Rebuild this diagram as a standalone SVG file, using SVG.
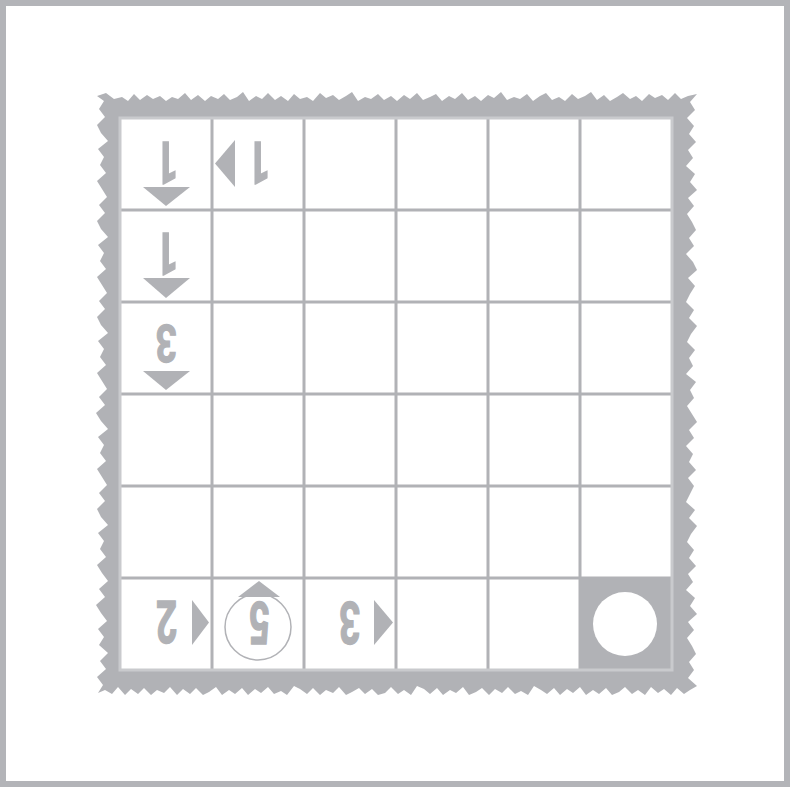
<svg xmlns="http://www.w3.org/2000/svg" width="790" height="787" viewBox="0 0 790 787">
<style>
.g{fill:#b1b2b6}
.ln{stroke:#b1b2b6;stroke-width:3;fill:none}
.num{font-family:Roboto,"Open Sans",sans-serif;font-weight:bold;font-size:60px;fill:#b1b2b6;stroke:#b1b2b6;stroke-width:1.5;text-anchor:middle}
</style>
<rect x="0" y="0" width="790" height="787" fill="#ffffff"/>
<rect id="frame" x="3" y="3" width="784" height="781" fill="none" stroke="#b3b4b8" stroke-width="6"/>
<g id="board">
<path class="g" d="M97,96 L106,93 114,99 122,97 128,101 134,94 140,100 147,95 153,99 160,96 166,101 172,97 178,99 185,93 191,100 198,95 205,101 211,96 218,99 224,94 230,100 237,97 243,92 249,101 256,96 262,99 268,93 275,100 281,96 288,101 294,94 300,99 307,97 313,101 320,93 326,98 333,95 339,100 346,96 352,92 358,101 365,97 371,99 378,94 384,100 391,96 397,101 404,95 410,99 417,93 423,100 430,97 436,94 442,101 449,96 455,99 462,93 468,100 475,96 481,101 488,95 494,98 501,92 507,100 514,97 520,99 527,94 533,101 540,96 546,93 552,100 559,97 565,101 572,94 578,99 585,96 591,92 597,100 604,95 610,101 617,97 623,93 630,99 636,96 642,101 649,94 655,98 662,95 668,100 675,93 681,99 688,96 697,94 L690,102 695,110 687,118 694,126 689,134 696,142 688,150 693,158 686,166 695,174 690,182 697,190 688,198 694,206 687,214 692,222 696,230 689,238 694,246 686,254 693,262 697,270 688,278 695,286 690,294 686,302 694,310 689,318 697,326 691,334 687,342 695,350 689,358 693,366 686,374 696,382 690,390 694,398 687,406 692,414 697,422 689,430 694,438 686,446 693,454 689,462 696,470 688,478 694,486 690,494 686,502 695,510 689,518 697,526 691,534 687,542 694,550 689,558 696,566 688,574 693,582 686,590 695,598 690,606 697,614 688,622 694,630 687,638 692,646 696,654 689,662 694,670 688,678 697,686 690,690 L684,694 677,688 671,695 664,689 658,693 651,687 645,695 638,690 632,694 625,687 619,692 612,695 606,688 599,694 593,690 586,695 580,687 573,693 567,689 560,695 554,688 547,694 541,690 534,686 528,695 521,691 515,694 508,687 502,693 495,689 489,695 482,688 476,692 469,695 463,687 456,693 450,690 443,695 437,688 430,694 424,689 417,686 411,695 404,690 398,694 391,687 385,693 378,695 372,689 365,694 359,688 352,692 346,695 339,687 333,693 326,690 320,695 313,688 307,694 300,689 294,686 287,695 281,691 274,694 268,687 261,693 255,689 248,695 242,688 235,694 229,690 222,695 216,687 209,692 203,695 196,688 190,694 183,689 177,695 170,687 164,693 157,690 151,695 144,688 138,694 131,689 125,695 118,687 112,694 105,690 98,693 L103,685 97,677 106,669 100,661 108,653 99,645 104,637 98,629 107,621 101,613 96,605 105,597 99,589 108,581 102,573 97,565 106,557 100,549 104,541 98,533 108,525 101,517 97,509 105,501 99,493 107,485 102,477 97,469 106,461 100,453 104,445 98,437 108,429 101,421 96,413 105,405 99,397 107,389 102,381 97,373 106,365 100,357 104,349 98,341 108,333 101,325 97,317 105,309 99,301 107,293 102,285 97,277 106,269 100,261 104,253 98,245 108,237 101,229 97,221 105,213 99,205 107,197 102,189 97,181 106,173 100,165 104,157 98,149 108,141 101,133 97,125 105,117 99,109 104,101 Z"/>
</g>
<g id="grid">
<rect x="120" y="118" width="552" height="552" fill="#ffffff"/>
<rect x="580" y="578" width="92" height="92" class="g"/>
<path class="ln" d="M212,118V670M304,118V670M396,118V670M488,118V670M580,118V670M120,210H672M120,302H672M120,394H672M120,486H672M120,578H672"/>
<rect x="120" y="118" width="552" height="552" fill="none" stroke="#c9cacd" stroke-width="3"/>
</g>
<g id="cell-0-0">
<text class="num" transform="translate(167,163) rotate(180) scale(0.65,1)" x="0" y="21">1</text>
<polygon class="g" points="143,187 190,187 166,206"/>
</g>
<g id="cell-1-0">
<polygon class="g" points="235,140 235,187 215,163.5"/>
<text class="num" transform="translate(259,163) rotate(180) scale(0.65,1)" x="0" y="21">1</text>
</g>
<g id="cell-0-1">
<text class="num" transform="translate(167,254) rotate(180) scale(0.65,1)" x="0" y="21">1</text>
<polygon class="g" points="143,278 190,278 166,298"/>
</g>
<g id="cell-0-2">
<text class="num" transform="translate(166,343.5) rotate(180) scale(0.62,0.86)" x="0" y="21">3</text>
<polygon class="g" points="143,371 190,371 166,390"/>
</g>
<g id="cell-0-5">
<text class="num" transform="translate(166.5,622.5) rotate(180) scale(0.62,1)" x="0" y="21">2</text>
<polygon class="g" points="192,600 192,645 209,622.5"/>
</g>
<g id="cell-1-5">
<circle cx="258" cy="627" r="33" fill="none" stroke="#b1b2b6" stroke-width="1.5"/>
<polygon class="g" points="238,597 280,597 259,581"/>
<text class="num" transform="translate(259.5,623.5) rotate(180) scale(0.62,1)" x="0" y="21">5</text>
</g>
<g id="cell-2-5">
<text class="num" transform="translate(349.5,623.5) rotate(180) scale(0.62,1)" x="0" y="21">3</text>
<polygon class="g" points="374,600 374,645 393,622.5"/>
</g>
<g id="cell-5-5">
<circle cx="625" cy="624" r="32" fill="#ffffff"/>
</g>
</svg>
